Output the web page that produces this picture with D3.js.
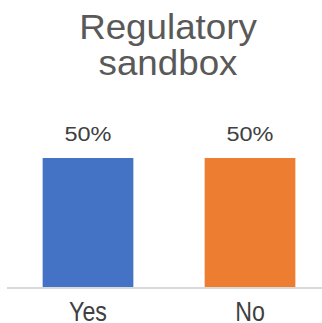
<!DOCTYPE html>
<html>
<head>
<meta charset="utf-8">
<script src="https://cdn.jsdelivr.net/npm/d3@7"></script>
<style>
  body { margin: 0; background: #fff; }
  svg { display: block; }
</style>
</head>
<body>
<svg id="chart" width="322" height="323"></svg>
<script>
const categories = ['Yes', 'No'];
const values = [50, 50];
const barColors = ['#4472C4', '#ED7D31'];
const titleLines = ['Regulatory', 'sandbox'];

const svg = d3.select('#chart');
const font = 'Helvetica, "Liberation Sans", Arial, sans-serif';

// plot area runs past the right edge, like the cropped original
const x = d3.scaleBand()
  .domain(categories)
  .range([7, 331])
  .paddingInner(0.44)
  .paddingOuter(0.22);

const y = d3.scaleLinear()
  .domain([0, 60])
  .range([287, 132.2]);

// title (glyphs in the original are a bit wider than Arial)
svg.append('text')
  .attr('transform', 'translate(168,39) scale(1.05,1)')
  .attr('text-anchor', 'middle')
  .attr('font-family', font)
  .attr('font-size', '35px')
  .attr('fill', '#595959')
  .selectAll('tspan')
  .data(titleLines)
  .join('tspan')
  .attr('x', 0)
  .attr('dy', (d, i) => i === 0 ? 0 : 36.5)
  .text(d => d);

// bars
svg.selectAll('.bar')
  .data(categories)
  .join('rect')
  .attr('class', 'bar')
  .attr('x', d => x(d))
  .attr('width', x.bandwidth())
  .attr('y', (d, i) => y(values[i]))
  .attr('height', (d, i) => y(0) - y(values[i]))
  .attr('fill', (d, i) => barColors[i]);

// value labels
svg.selectAll('.val')
  .data(categories)
  .join('text')
  .attr('class', 'val')
  .attr('transform', (d, i) =>
    `translate(${x(d) + x.bandwidth() / 2},${y(values[i]) - 17.5}) scale(1.12,1)`)
  .attr('text-anchor', 'middle')
  .attr('font-family', font)
  .attr('font-size', '21px')
  .attr('fill', '#404040')
  .text((d, i) => values[i] + '%');

// category axis
const axis = svg.append('g')
  .attr('transform', `translate(0,${y(0)})`)
  .call(d3.axisBottom(x).tickSize(0).tickPadding(15.3));
axis.select('.domain')
  .attr('stroke', '#d9d9d9')
  .attr('stroke-width', 2)
  .attr('d', 'M7,1H331');
axis.selectAll('text')
  .attr('transform', 'scale(0.86,1)')
  .attr('font-family', font)
  .attr('font-size', '27px')
  .attr('fill', '#404040');
</script>
</body>
</html>
